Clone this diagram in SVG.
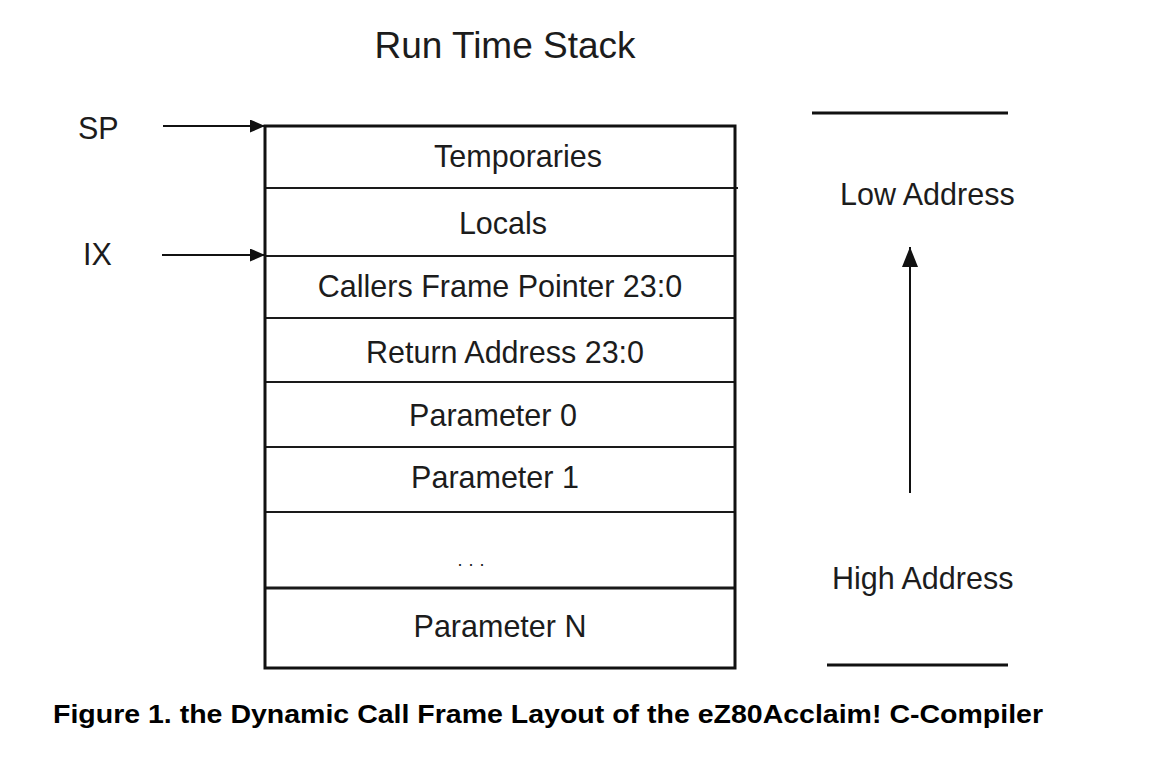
<svg xmlns="http://www.w3.org/2000/svg" width="1156" height="768" viewBox="0 0 1156 768">
  <style>
    .t { font-family: "Liberation Sans", Arial, sans-serif; font-size: 30.5px; fill: #1c1c1c; }
    .c { text-anchor: middle; }
    .cap { font-family: "Liberation Sans", Arial, sans-serif; font-size: 25px; font-weight: bold; fill: #000; }
    .div { stroke: #1a1a1a; stroke-width: 2; }
    .edge { stroke: #111; stroke-width: 2; fill: none; }
    .rule { stroke: #111; stroke-width: 3; }
  </style>
  <defs>
    <marker id="arrow" viewBox="0 0 15 13" refX="15" refY="6.5" markerWidth="15" markerHeight="13" markerUnits="userSpaceOnUse" orient="auto">
      <path d="M0,0 L15,6.5 L0,13 Z" fill="#111"/>
    </marker>
    <marker id="arrowUp" viewBox="0 0 20 16" refX="20" refY="8" markerWidth="20" markerHeight="16" markerUnits="userSpaceOnUse" orient="auto">
      <path d="M0,0 L20,8 L0,16 Z" fill="#111"/>
    </marker>
  </defs>

  <rect width="1156" height="768" fill="#fff"/>

  <text id="title" class="t c" x="505" y="58" style="font-size:37px">Run Time Stack</text>

  <!-- stack frame cells -->
  <g id="stack">
    <g id="temporaries">
      <text class="t c" x="518" y="167">Temporaries</text>
    </g>
    <line class="div" x1="265" y1="188" x2="738" y2="188"/>
    <g id="locals">
      <text class="t c" x="503" y="234">Locals</text>
    </g>
    <line class="div" x1="265" y1="256" x2="735" y2="256"/>
    <g id="callers-frame-pointer">
      <text class="t c" x="500" y="297">Callers Frame Pointer 23:0</text>
    </g>
    <line class="div" x1="265" y1="318" x2="735" y2="318"/>
    <g id="return-address">
      <text class="t c" x="505" y="363">Return Address 23:0</text>
    </g>
    <line class="div" x1="265" y1="382" x2="735" y2="382"/>
    <g id="parameter-0">
      <text class="t c" x="493" y="426">Parameter 0</text>
    </g>
    <line class="div" x1="265" y1="447" x2="735" y2="447"/>
    <g id="parameter-1">
      <text class="t c" x="495" y="488">Parameter 1</text>
    </g>
    <line class="div" x1="265" y1="512" x2="735" y2="512"/>
    <g id="ellipsis">
      <text class="t c" x="474" y="566" style="font-size:18px;letter-spacing:6px">...</text>
    </g>
    <line class="div" x1="265" y1="588" x2="735" y2="588" style="stroke-width:3"/>
    <g id="parameter-n">
      <text class="t c" x="500" y="637">Parameter N</text>
    </g>
    <rect x="265" y="126" width="470" height="542" fill="none" stroke="#111" stroke-width="3"/>
  </g>

  <!-- pointer labels -->
  <g id="sp">
    <text class="t" x="78" y="139">SP</text>
  </g>
  <g id="ix">
    <text class="t" x="83" y="265">IX</text>
  </g>

  <!-- address range -->
  <g id="low-address">
    <line class="rule" x1="812" y1="113" x2="1008" y2="113"/>
    <text class="t" x="840" y="205">Low Address</text>
  </g>
  <g id="high-address">
    <text class="t" x="832" y="589">High Address</text>
    <line class="rule" x1="827" y1="665" x2="1008" y2="665"/>
  </g>

  <g id="connectors">
    <line class="edge" x1="163" y1="126" x2="265" y2="126" marker-end="url(#arrow)"/>
    <line class="edge" x1="162" y1="255" x2="265" y2="255" marker-end="url(#arrow)"/>
    <line class="edge" x1="910" y1="493" x2="910" y2="247" marker-end="url(#arrowUp)"/>
  </g>

  <text id="caption" class="cap" x="53" y="723" textLength="990" lengthAdjust="spacingAndGlyphs">Figure 1. the Dynamic Call Frame Layout of the eZ80Acclaim! C-Compiler</text>
</svg>
